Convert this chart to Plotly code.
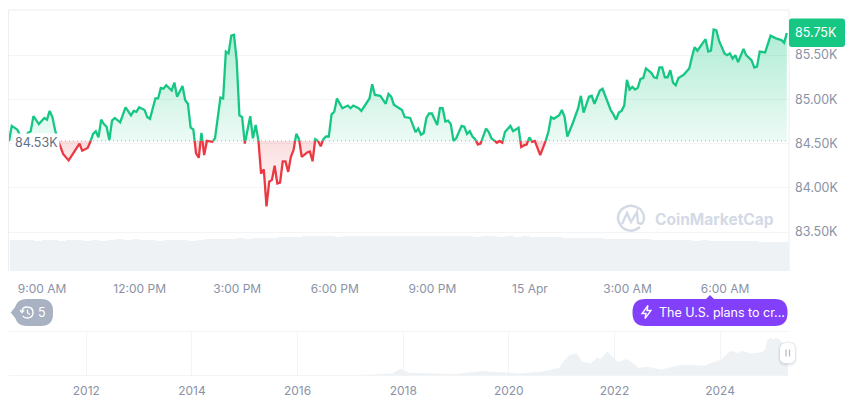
import pandas as pd
import plotly.graph_objects as go

WIDTH = 860
HEIGHT = 401

# price data, steps are 5 minute samples counted from 07:59 on 14 Apr
steps = [0, 1, 3, 5, 7, 8, 9, 11, 13, 14, 15, 16, 17, 18, 19, 20, 22, 24, 26, 27, 29, 30, 31, 32, 33, 34, 35, 36, 37,
         38, 39, 41, 43, 45, 46, 47, 48, 50, 51, 52, 54, 55, 56, 57, 58, 60, 61, 62, 64, 65, 66, 67, 68, 69, 70, 71,
         72, 73, 75, 76, 78, 79, 80, 81, 82, 83, 84, 85, 86, 87, 89, 90, 91, 92, 93, 94, 95, 96, 97, 98, 99, 100, 101,
         102, 103, 104, 105, 106, 107, 108, 110, 111, 112, 113, 114, 115, 116, 117, 118, 119, 120, 121, 123, 125, 126,
         127, 129, 130, 133, 134, 135, 137, 139, 140, 141, 142, 144, 145, 146, 148, 150, 151, 152, 153, 154, 155, 156,
         158, 159, 160, 161, 162, 163, 164, 165, 167, 168, 169, 170, 171, 172, 173, 174, 176, 177, 178, 180, 181, 182,
         183, 185, 186, 188, 189, 190, 191, 192, 193, 194, 196, 198, 199, 200, 201, 203, 204, 205, 206, 208, 210, 211,
         212, 214, 215, 216, 218, 219, 222, 223, 224, 225, 226, 227, 228, 229, 230, 231, 232, 233, 234, 235, 237, 238,
         239, 240, 241, 242, 243, 244, 245, 246, 247, 249, 251, 252, 253, 254, 256, 257, 258, 259, 260, 261, 262, 264,
         265, 266, 267, 268, 269, 271, 272, 274, 275, 276, 277, 279, 281, 283, 285, 286, 287]
prices = [84.53, 84.70, 84.66, 84.54, 84.62, 84.64, 84.81, 84.72, 84.79, 84.77, 84.87, 84.80, 84.65, 84.54, 84.47,
          84.38, 84.31, 84.41, 84.50, 84.42, 84.45, 84.52, 84.61, 84.64, 84.57, 84.77, 84.72, 84.69, 84.54,
          84.76, 84.79, 84.74, 84.91, 84.82, 84.87, 84.86, 84.91, 84.88, 84.80, 84.78, 85.01, 85.01, 85.13, 85.12,
          85.16, 85.10, 85.19, 85.03, 85.15, 84.99, 84.95, 84.68, 84.66, 84.39, 84.34, 84.62,
          84.37, 84.53, 84.52, 84.56, 85.02, 85.01, 85.54, 85.52, 85.72, 85.73, 85.44, 84.82, 84.80, 84.50, 84.81,
          84.56, 84.71, 84.54, 84.16, 84.21, 83.79, 84.07, 84.09, 84.25, 84.05, 84.06, 84.30,
          84.30, 84.18, 84.35, 84.43, 84.61, 84.55, 84.35, 84.40, 84.41, 84.30, 84.55, 84.53, 84.47, 84.55, 84.58,
          84.58, 84.83, 84.86, 85.01, 84.90, 84.93, 84.90,
          84.93, 84.90, 84.87, 85.01, 85.17, 85.05, 85.04, 84.95, 85.06, 85.03, 84.94, 84.90, 84.88, 84.80, 84.79,
          84.63, 84.67, 84.60, 84.62, 84.79, 84.84, 84.84,
          84.71, 84.90, 84.90, 84.75, 84.76, 84.72, 84.53, 84.56, 84.70, 84.69, 84.61, 84.64, 84.58, 84.55, 84.49,
          84.50, 84.67, 84.63, 84.56, 84.51, 84.53, 84.51,
          84.63, 84.70, 84.64, 84.68, 84.46, 84.48, 84.49, 84.57, 84.52, 84.53, 84.37, 84.53, 84.63, 84.80, 84.78,
          84.82, 84.88, 84.80, 84.58, 84.73, 84.90, 85.04,
          84.85, 85.03, 85.04, 84.95, 85.10, 85.12, 84.88, 84.83, 84.77, 84.85, 84.87, 84.93, 85.22, 85.11, 85.14,
          85.11, 85.13, 85.23, 85.24, 85.35, 85.30, 85.25,
          85.24, 85.36, 85.36, 85.25, 85.25, 85.33, 85.19, 85.16, 85.24, 85.28, 85.35, 85.48, 85.59, 85.55, 85.64,
          85.68, 85.54, 85.55, 85.79, 85.78, 85.66, 85.52,
          85.50, 85.52, 85.46, 85.50, 85.42, 85.57, 85.50, 85.44, 85.36, 85.37, 85.54, 85.53, 85.72, 85.69, 85.67,
          85.64, 85.75]
base_price = 84.53

# volume bars, one per 15 minutes
volumes = [31, 31, 31.5, 30.5, 31, 31, 30.5, 31, 31, 30.5, 31, 30, 31.5,
           32, 31.5, 32, 31, 31, 30.5, 31, 31, 31, 30.5, 31.5, 32,
           32, 32.5, 32, 33, 32.5, 33, 33, 33.5, 34, 34.5, 34.5, 35,
           35.5, 35.5, 35, 34.5, 35.5, 35.5, 35, 35.5, 35.5, 35, 35.5, 35, 35.5, 35, 35.5, 35,
           35, 35.5, 35, 35, 34.5, 35, 35, 34.5, 35, 34.5, 35, 34, 34, 34.5, 34, 33.5,
           33.5, 33, 33.5, 33, 32.5, 32.5, 32, 32.5, 32, 32, 31.5, 31, 31.5, 31, 31, 30.5, 31, 30.5, 30.5, 30, 30.5,
           30, 30, 29.5, 29.5, 29, 29.5]

time_ticks = ["2025-04-14 09:00", "2025-04-14 12:00", "2025-04-14 15:00", "2025-04-14 18:00", "2025-04-14 21:00",
              "2025-04-15 00:00", "2025-04-15 03:00", "2025-04-15 06:00"]
time_labels = ["9:00 AM", "12:00 PM", "3:00 PM", "6:00 PM", "9:00 PM", "15 Apr", "3:00 AM", "6:00 AM"]
price_ticks = [83.5, 84.0, 84.5, 85.0, 85.5]
price_labels = ["83.50K", "84.00K", "84.50K", "85.00K", "85.50K"]

# all time price for the small chart at the bottom
history_dates = ["2010-07-15", "2011-06-10", "2012-06-01", "2013-04-01", "2013-12-01", "2014-06-01", "2015-01-15",
                 "2016-01-01", "2017-01-01", "2017-06-10", "2017-10-15", "2017-12-17", "2018-02-06", "2018-06-25",
                 "2018-12-15", "2019-06-26", "2020-03-15", "2020-09-01", "2020-12-15", "2021-01-10", "2021-02-20",
                 "2021-04-14", "2021-05-25", "2021-07-20", "2021-09-05", "2021-09-25", "2021-11-10", "2022-01-24",
                 "2022-04-01", "2022-06-18", "2022-08-15", "2022-11-20", "2023-03-25", "2023-06-20", "2023-09-15",
                 "2023-10-30", "2024-01-10", "2024-03-14", "2024-05-01", "2024-06-05", "2024-08-05", "2024-10-10",
                 "2024-11-05", "2024-11-22", "2024-12-17", "2025-01-10", "2025-01-21", "2025-02-25", "2025-03-10",
                 "2025-04-14"]
history_prices = [70, 25, 6, 130, 1000, 600, 220, 430, 1000, 2700, 5500, 19000, 7500, 6200, 3400, 12500, 5500, 11800,
                  21000, 38000, 55000, 62000, 38000, 33000, 50000, 44000, 66000, 38000, 45000, 21000, 24000, 16500,
                  28000, 29000, 26500, 34500, 44000, 68000, 62000, 68000, 60000, 64000, 69000, 97000, 104000, 98000,
                  105000, 96000, 86000, 85000]
history_ticks = ["2012-01-01", "2014-01-01", "2016-01-01", "2018-01-01", "2020-01-01", "2022-01-01", "2024-01-01"]
history_labels = ["2012", "2014", "2016", "2018", "2020", "2022", "2024"]

GREEN = "#16c784"
RED = "#ea3943"
GRID = "#f3f4f6"
BORDER = "#eceef1"
GRAY = "#eff2f5"
LABEL = "#8a92a6"
PURPLE = "#8340fb"
WATERMARK = "#d3dae6"

start = pd.Timestamp("2025-04-14 07:59")
minutes = [s * 5 for s in steps]


def px(x):
    return x / WIDTH


def py(y):
    return 1 - y / HEIGHT


def rounded_box(x0, y0, x1, y1, r):
    """svg path of a rounded box, in paper coordinates, from pixel corners"""
    pts = [("M", x0 + r, y0), ("L", x1 - r, y0), ("Q", x1, y0, x1, y0 + r), ("L", x1, y1 - r),
           ("Q", x1, y1, x1 - r, y1), ("L", x0 + r, y1), ("Q", x0, y1, x0, y1 - r), ("L", x0, y0 + r),
           ("Q", x0, y0, x0 + r, y0)]
    return to_path(pts) + " Z"


def to_path(pts):
    out = []
    for p in pts:
        coords = []
        for i in range(1, len(p), 2):
            coords.append(f"{px(p[i]):.5f},{py(p[i + 1]):.5f}")
        out.append(p[0] + " ".join(coords))
    return " ".join(out)


def paper_shape(path, fill=None, line=None, width=0):
    return dict(type="path", xref="paper", yref="paper", path=path, layer="above",
                fillcolor=fill if fill else "rgba(0,0,0,0)",
                line=dict(color=line if line else "rgba(0,0,0,0)", width=width))


def label(x, y, text, size, color, anchor="center", **kw):
    return dict(x=px(x), y=py(y), xref="paper", yref="paper", text=text, showarrow=False, xanchor=anchor,
                yanchor="middle", font=dict(family="Inter", size=size, color=color), **kw)


# add the points where the line crosses the open price, so both colours meet there
cross_t = []
cross_p = []
for i in range(len(minutes)):
    cross_t.append(minutes[i])
    cross_p.append(prices[i])
    if i + 1 < len(minutes) and (prices[i] - base_price) * (prices[i + 1] - base_price) < 0:
        frac = (base_price - prices[i]) / (prices[i + 1] - prices[i])
        cross_t.append(minutes[i] + frac * (minutes[i + 1] - minutes[i]))
        cross_p.append(base_price)

times = [start + pd.Timedelta(minutes=m) for m in cross_t]
upper = [p if p >= base_price else None for p in cross_p]
lower = [p if p <= base_price else None for p in cross_p]
upper_fill = [max(p, base_price) for p in cross_p]
lower_fill = [min(p, base_price) for p in cross_p]
base_line = [base_price for p in cross_p]

vol_times = [start + pd.Timedelta(minutes=7.5 + 15 * i) for i in range(len(volumes))]

fig = go.Figure()

fig.add_trace(go.Bar(x=vol_times, y=volumes, yaxis="y2", width=15 * 60000, marker=dict(color=GRAY, line=dict(width=0))))

fig.add_trace(go.Scatter(x=times, y=base_line, mode="lines", line=dict(width=0), hoverinfo="skip"))
fig.add_trace(go.Scatter(x=times, y=upper_fill, mode="lines", line=dict(width=0), fill="tonexty", fillgradient=dict(
    type="vertical", start=85.8, stop=base_price,
    colorscale=[[0, "rgba(22,199,132,0.34)"], [1, "rgba(22,199,132,0.08)"]])))
fig.add_trace(go.Scatter(x=times, y=base_line, mode="lines", line=dict(width=0), hoverinfo="skip"))
fig.add_trace(go.Scatter(x=times, y=lower_fill, mode="lines", line=dict(width=0), fill="tonexty", fillgradient=dict(
    type="vertical", start=base_price, stop=83.8,
    colorscale=[[0, "rgba(234,57,67,0.17)"], [1, "rgba(234,57,67,0.01)"]])))

fig.add_trace(go.Scatter(x=[times[0], times[-1]], y=[base_price, base_price], mode="lines",
                         line=dict(color="#a6b0c3", width=1, dash="1px,3px")))
fig.add_trace(go.Scatter(x=times, y=upper, mode="lines", line=dict(color=GREEN, width=2.3)))
fig.add_trace(go.Scatter(x=times, y=lower, mode="lines", line=dict(color=RED, width=2.3)))

fig.add_trace(go.Scatter(x=history_dates, y=history_prices, xaxis="x2", yaxis="y3", mode="lines",
                         line=dict(width=0), fill="tozeroy", fillcolor=GRAY))

shapes = [
    # frame of the main chart
    dict(type="line", xref="paper", yref="paper", x0=px(8.5), x1=px(789), y0=py(10), y1=py(10),
         line=dict(color=BORDER, width=1)),
    dict(type="line", xref="paper", yref="paper", x0=px(8.5), x1=px(8.5), y0=py(10), y1=py(271),
         line=dict(color=BORDER, width=1)),
    dict(type="line", xref="paper", yref="paper", x0=px(789), x1=px(789), y0=py(10), y1=py(271),
         line=dict(color=BORDER, width=1)),
    # frame of the small chart
    dict(type="line", xref="paper", yref="paper", x0=px(8.5), x1=px(788), y0=py(331.5), y1=py(331.5),
         line=dict(color=GRID, width=1)),
    dict(type="line", xref="paper", yref="paper", x0=px(8.5), x1=px(788), y0=py(375.5), y1=py(375.5),
         line=dict(color=GRID, width=1)),
    # current price tag
    paper_shape(rounded_box(789, 18.5, 845, 47, 3), fill=GREEN),
    # history bubble with its clock
    paper_shape(rounded_box(15, 299, 53, 326, 12), fill="#a8b2c3"),
    paper_shape(to_path([("M", 16, 306), ("L", 10.7, 312.5), ("L", 16, 319)]) + " Z", fill="#a8b2c3"),
    paper_shape(to_path([("M", 22, 312), ("Q", 22, 307, 27, 307), ("Q", 33, 307, 33, 312.5),
                         ("Q", 33, 318, 27, 318), ("Q", 24, 318, 22.8, 316)]), line="white", width=1.4),
    paper_shape(to_path([("M", 20, 310), ("L", 22, 312.5), ("L", 24.2, 310.3)]), line="white", width=1.2),
    paper_shape(to_path([("M", 27.5, 309.5), ("L", 27.5, 313), ("L", 30, 314.5)]), line="white", width=1.2),
    # news bubble
    paper_shape(rounded_box(632.5, 299, 787.5, 326, 13), fill=PURPLE),
    paper_shape(to_path([("M", 705.5, 299.5), ("L", 710, 295), ("L", 714.5, 299.5)]) + " Z", fill=PURPLE),
    paper_shape(to_path([("M", 648, 305.5), ("L", 642, 313.5), ("L", 646, 313.5), ("L", 645, 318.5),
                         ("L", 651, 310.5), ("L", 647, 310.5)]) + " Z", line="white", width=1.3),
    # slider handle of the small chart, two faint boxes behind it stand in for the shadow
    paper_shape(rounded_box(778, 341.5, 797, 366.5, 8), fill="rgba(120,130,150,0.08)"),
    paper_shape(rounded_box(779, 342.5, 796, 365, 7), fill="rgba(120,130,150,0.12)"),
    paper_shape(rounded_box(780, 343, 795, 363, 6), fill="white"),
    paper_shape(to_path([("M", 786, 349.5), ("L", 786, 356.5)]), line="#b6bdca", width=1.3),
    paper_shape(to_path([("M", 789.5, 349.5), ("L", 789.5, 356.5)]), line="#b6bdca", width=1.3),
    # watermark logo
    paper_shape(to_path([("M", 640, 227), ("Q", 631, 234, 623, 228), ("Q", 614, 219, 621, 210),
                         ("Q", 630, 202, 640, 209), ("Q", 647, 216, 642, 224)]), line=WATERMARK, width=2.4),
    paper_shape(to_path([("M", 622, 224), ("L", 627, 213), ("L", 631, 222), ("L", 637, 212), ("L", 638, 223),
                         ("L", 642, 224)]), line=WATERMARK, width=2.4),
]

annotations = [
    label(36.5, 142.5, "84.53K", 12.5, "#616e85", bgcolor="white", borderpad=1),
    label(815.5, 32.5, "85.75K", 12.5, "white"),
    label(42, 312.5, "5", 12.5, "white"),
    label(657, 312.5, "The U.S. plans to cr...", 12.5, "white", anchor="left"),
    label(653, 219.5, "<b>CoinMarketCap</b>", 15.5, WATERMARK, anchor="left"),
]

fig.update_layout(
    width=WIDTH,
    height=HEIGHT,
    margin=dict(l=0, r=0, t=0, b=0),
    paper_bgcolor="white",
    plot_bgcolor="white",
    showlegend=False,
    bargap=0,
    shapes=shapes,
    annotations=annotations,
    font=dict(family="Inter", size=12, color=LABEL),
    xaxis=dict(type="date", domain=[px(8.5), px(789)], range=["2025-04-14 07:58", "2025-04-15 07:58"],
               tickmode="array", tickvals=time_ticks, ticktext=time_labels, showgrid=False, zeroline=False,
               ticks="", ticklabelstandoff=9, anchor="y"),
    yaxis=dict(domain=[py(271), py(10)], range=[83.06, 86.01], side="right", tickmode="array",
               tickvals=price_ticks, ticktext=price_labels, showgrid=True, gridcolor=GRID, gridwidth=1,
               zeroline=False, ticks="", ticklabelstandoff=5, tickfont=dict(size=12.5), anchor="x"),
    yaxis2=dict(domain=[py(271), py(10)], range=[0, 261], overlaying="y", showgrid=False, zeroline=False,
                showticklabels=False, ticks="", anchor="x"),
    xaxis2=dict(type="date", domain=[px(8.5), px(788)], range=["2010-07-12", "2025-04-15"], tickmode="array",
                tickvals=history_ticks, ticktext=history_labels, showgrid=True, gridcolor=GRID, zeroline=False,
                ticks="", ticklabelstandoff=6, anchor="y3"),
    yaxis3=dict(domain=[py(375.5), py(331.5)], range=[0, 120800], showgrid=False, zeroline=False,
                showticklabels=False, ticks="", anchor="x2"),
)

# the page body has a default margin that would push the chart off the window
fig.write_html("out.html", config={"displayModeBar": False},
               post_script="document.body.style.margin = '0'; document.body.style.overflow = 'hidden';")
